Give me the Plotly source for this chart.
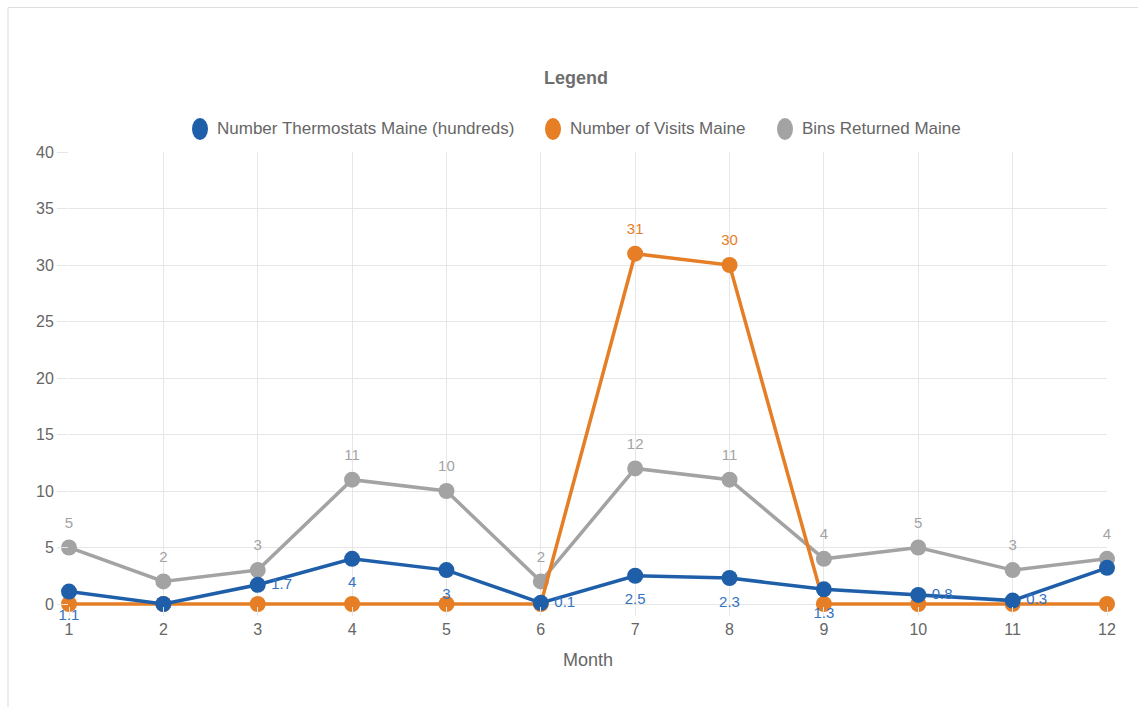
import plotly.graph_objects as go

months = [1, 2, 3, 4, 5, 6, 7, 8, 9, 10, 11, 12]
thermostats = [1.1, 0, 1.7, 4, 3, 0.1, 2.5, 2.3, 1.3, 0.8, 0.3, 3.2]
visits = [0, 0, 0, 0, 0, 0, 31, 30, 0, 0, 0, 0]
bins = [5, 2, 3, 11, 10, 2, 12, 11, 4, 5, 3, 4]
y_ticks = [0, 5, 10, 15, 20, 25, 30, 35, 40]

names = ["Number Thermostats Maine (hundreds)", "Number of Visits Maine", "Bins Returned Maine"]
colors = ["#1f5fa9", "#e57e25", "#a3a3a3"]
label_colors = ["#3473c0", "#e57e25", "#a3a3a3"]

therm_pos = ["bottom center", "bottom center", "middle right", "bottom center", "bottom center",
             "middle right", "bottom center", "bottom center", "bottom center", "middle right",
             "middle right", "middle right"]
therm_show = [True, False, True, True, True, True, True, True, True, True, True, False]

FONT = "Liberation Sans, Arial, sans-serif"


def fmt(v):
    return str(int(v)) if float(v).is_integer() else str(v)


fig = go.Figure()

series = [(bins, 2), (visits, 1), (thermostats, 0)]  # draw order: gray, orange, blue on top
for vals, i in series:
    fig.add_trace(go.Scatter(
        x=months, y=vals, mode="lines+markers", name=names[i], showlegend=False,
        line=dict(color=colors[i], width=3.5), marker=dict(color=colors[i], size=16),
        cliponaxis=False, hoverinfo="x+y+name",
    ))

# Data labels drawn above every line
therm_sizes = [20 if p == "middle right" else 26 for p in therm_pos]
label_specs = [
    (bins, 2, [fmt(v) for v in bins], "top center", 24),
    (visits, 1, [fmt(v) if v != 0 else "" for v in visits], "top center", 24),
    (thermostats, 0, [fmt(v) if s else "" for v, s in zip(thermostats, therm_show)], therm_pos,
     therm_sizes),
]
for vals, i, txt, pos, msize in label_specs:
    fig.add_trace(go.Scatter(
        x=months, y=vals, mode="markers+text", showlegend=False, hoverinfo="skip",
        marker=dict(size=msize, opacity=0, color=colors[i]),
        text=txt, textposition=pos,
        textfont=dict(color=label_colors[i], size=15, family=FONT),
        cliponaxis=False,
    ))

W, H = 1138, 707
L, R, T = 69, 31, 152
Y0_PX = 604          # pixel row of value 0
B = H - 606          # plot bottom a few px under zero
pw = W - L - R
ph = (H - B) - T
units_per_px = 40 / (Y0_PX - T)
y_min = -(H - B - Y0_PX) * units_per_px


def px_x(p):
    return (p - L) / pw


def px_y(p):
    return (H - B - p) / ph


shapes = [dict(type="rect", xref="paper", yref="paper", x0=px_x(8), x1=px_x(1160),
               y0=px_y(760), y1=px_y(7.5), line=dict(color="#dddddd", width=1),
               fillcolor="rgba(0,0,0,0)", layer="below")]
annotations = [dict(text="<b>Legend</b>", x=px_x(576), y=px_y(78), xref="paper", yref="paper",
                    showarrow=False, font=dict(size=18, color="#6e6e6e", family=FONT),
                    xanchor="center", yanchor="middle")]

# Manual legend: ellipse symbols + text
legend_x = [200, 553, 785]
LEG_Y = 129
for n, c, lx in zip(names, colors, legend_x):
    shapes.append(dict(type="circle", xref="paper", yref="paper", xsizemode="pixel",
                       ysizemode="pixel", xanchor=px_x(lx), yanchor=px_y(LEG_Y),
                       x0=-8, x1=8, y0=-11, y1=11, fillcolor=c, line=dict(width=0)))
    annotations.append(dict(text=n, x=px_x(lx + 15), y=px_y(LEG_Y), xref="paper", yref="paper",
                            showarrow=False, xanchor="left", yanchor="middle",
                            font=dict(size=17, color="#666666", family=FONT)))

fig.update_layout(
    width=W, height=H,
    margin=dict(l=L, r=R, t=T, b=B),
    paper_bgcolor="white", plot_bgcolor="white",
    font=dict(family=FONT, color="#666666", size=16),
    showlegend=False,
    annotations=annotations,
    shapes=shapes,
    xaxis=dict(range=[1, 12], tickmode="array", tickvals=months, ticktext=[str(m) for m in months],
               showgrid=True, gridcolor="#e6e6e6", gridwidth=1, zeroline=False,
               ticks="outside", ticklen=9, tickcolor="#e6e6e6",
               showline=False,
               tickfont=dict(size=16, color="#666666"),
               title=dict(text="Month", font=dict(size=18, color="#666666"), standoff=16)),
    yaxis=dict(range=[y_min, 40], tickmode="array", tickvals=y_ticks,
               showgrid=True, gridcolor="#e6e6e6", gridwidth=1, zeroline=True,
               zerolinecolor="#e6e6e6", zerolinewidth=1,
               ticks="outside", ticklen=11, tickcolor="#e6e6e6",
               showline=False,
               tickfont=dict(size=16, color="#666666")),
)

fig.write_html("out.html", config={"displayModeBar": False},
               post_script="document.body.style.margin='0px';")
